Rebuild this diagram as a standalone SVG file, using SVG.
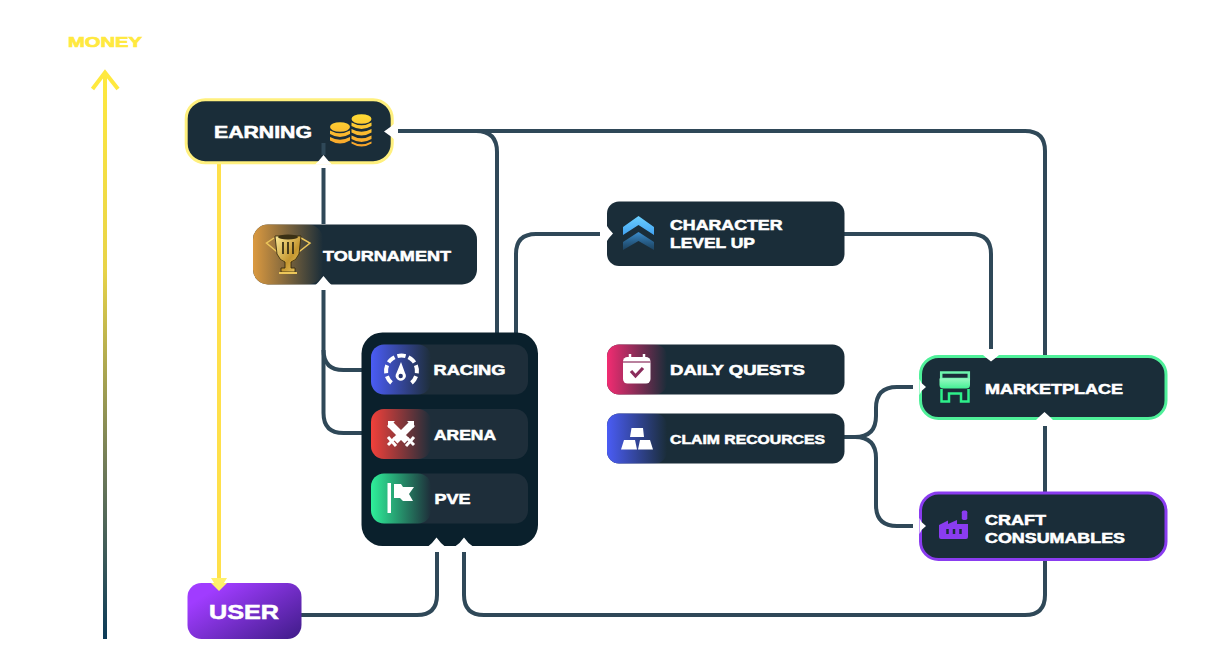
<svg xmlns="http://www.w3.org/2000/svg" width="1232" height="666" viewBox="0 0 1232 666">
<style>
.c{fill:none;stroke:#2f4858;stroke-width:4}
.n{fill:#1a2d39}
.t{font-family:"Liberation Sans",Arial,sans-serif;font-weight:700;fill:#fff;stroke:#fff;stroke-width:.55px;font-size:14.5px}
.w{fill:#fff}
</style>
<defs>
<linearGradient id="money" gradientUnits="userSpaceOnUse" x1="0" y1="72" x2="0" y2="639"><stop offset="0" stop-color="#ffe93f"/><stop offset=".35" stop-color="#e8d348"/><stop offset=".7" stop-color="#6f7a58"/><stop offset="1" stop-color="#0b3b58"/></linearGradient>
<linearGradient id="gT" x1="0" x2="1" y1="0" y2="0"><stop offset="0" stop-color="#dc9a40"/><stop offset="1" stop-color="#dc9a40" stop-opacity="0"/></linearGradient>
<linearGradient id="gB" x1="0" x2="1" y1="0" y2="0"><stop offset="0" stop-color="#4a5cf5"/><stop offset="1" stop-color="#4a5cf5" stop-opacity="0"/></linearGradient>
<linearGradient id="gR" x1="0" x2="1" y1="0" y2="0"><stop offset="0" stop-color="#f2403a"/><stop offset="1" stop-color="#f2403a" stop-opacity="0"/></linearGradient>
<linearGradient id="gG" x1="0" x2="1" y1="0" y2="0"><stop offset="0" stop-color="#2ef09a"/><stop offset="1" stop-color="#2ef09a" stop-opacity="0"/></linearGradient>
<linearGradient id="gP" x1="0" x2="1" y1="0" y2="0"><stop offset="0" stop-color="#f22c72"/><stop offset="1" stop-color="#f22c72" stop-opacity="0"/></linearGradient>
<linearGradient id="gU" x1="0" x2="1" y1="0.2" y2="1"><stop offset="0.1" stop-color="#a03cff"/><stop offset="1" stop-color="#3f1c88"/></linearGradient>
<linearGradient id="gCo" gradientUnits="userSpaceOnUse" x1="0" x2="0" y1="114" y2="147"><stop offset="0" stop-color="#ffdc35"/><stop offset="1" stop-color="#f7a12a"/></linearGradient>
<linearGradient id="gCh" gradientUnits="userSpaceOnUse" x1="0" x2="0" y1="231" y2="252"><stop offset="0" stop-color="#3f95d8"/><stop offset="1" stop-color="#1f5c90" stop-opacity=".35"/></linearGradient>
<linearGradient id="gCh2" gradientUnits="userSpaceOnUse" x1="0" x2="0" y1="216" y2="236"><stop offset="0" stop-color="#6cd0ff"/><stop offset="1" stop-color="#3f9ff0"/></linearGradient>
<linearGradient id="gSt" gradientUnits="userSpaceOnUse" x1="0" x2="0" y1="378" y2="389"><stop offset="0" stop-color="#9cf8c4"/><stop offset="1" stop-color="#3ff092"/></linearGradient>
<linearGradient id="gTr" x1="0" x2="1" y1="0" y2="1"><stop offset="0" stop-color="#fdeb9a"/><stop offset=".6" stop-color="#c4962f"/><stop offset="1" stop-color="#f0cf6a"/></linearGradient>
</defs>

<g id="connectors">
<path d="M105 639V74" fill="none" stroke="url(#money)" stroke-width="4"/>
<path d="M92.500 89L105 72.500 118 89" fill="none" stroke="#ffe93f" stroke-width="4"/>
<path class="c" d="M323.500 224V168"/>
<path class="c" d="M323.500 290V350Q323.500 370 343.500 370H371"/>
<path class="c" d="M323.500 350V413Q323.500 433 343.500 433H371"/>
<path class="c" d="M398 131H1025Q1045 131 1045 151V356"/>
<path class="c" d="M476 131Q497 131 497 152V333"/>
<path class="c" d="M516 333V254Q516 234 536 234H600"/>
<path class="c" d="M844 234H971Q991 234 991 254V349"/>
<path class="c" d="M844 437H855Q876 437 876 416V408Q876 387 897 387H913"/>
<path class="c" d="M855 437Q876 437 876 458V505Q876 526 897 526H913"/>
<path class="c" d="M1045 492V426"/>
<path class="c" d="M1045 560V595Q1045 615 1025 615H484Q464 615 464 595V552"/>
<path class="c" d="M301 615H417Q437 615 437 595V552"/>
<path d="M219 163V580" fill="none" stroke="#ffe04a" stroke-width="4"/>
<path d="M211 578H227L219 591Z" fill="#fff06a"/>
</g>

<text class="t" x="68" y="47" textLength="74" lengthAdjust="spacingAndGlyphs" style="fill:#ffe93f;stroke:#ffe93f;font-size:15px;stroke-width:.7px">MONEY</text>

<g id="earning">
<rect class="n" x="186.200" y="99.700" width="206" height="63" rx="19" stroke="#fff07e" stroke-width="3"/>
<path class="w" d="M315 164.500L318.500 161 323.500 155 328.500 161 332 164.500Z"/>
<path class="c" d="M323.500 143V155"/>
<path class="w" d="M395 123L391 126.500 384 131.500 391 136.500 395 140Z"/>
<text class="t" x="214" y="138" textLength="98" lengthAdjust="spacingAndGlyphs" style="font-size:17px">EARNING</text>
<g fill="url(#gCo)">
<ellipse cx="340" cy="127" rx="10" ry="4.800"/><path d="M330 130.500q10 5.500 20 0v3.500q-10 6-20 0ZM330 137q10 5.500 20 0v3.500q-10 6-20 0Z"/>
<ellipse cx="361.500" cy="119" rx="10" ry="4.800"/><path d="M351.500 122.500q10 5.500 20 0v3.500q-10 6-20 0ZM351.500 129q10 5.500 20 0v3.500q-10 6-20 0ZM351.500 135.500q10 5.500 20 0v3.500q-10 6-20 0ZM351.500 141.500q10 5.500 20 0v2q-10 6-20 0Z"/>
</g>
</g>

<g id="tournament">
<rect class="n" x="253" y="224.500" width="224" height="60" rx="15"/>
<rect x="253" y="224.500" width="70" height="60" rx="15" fill="url(#gT)"/>
<path class="w" d="M315 285.500L318.500 282 323.500 276 328.500 282 332 285.500Z"/>
<text class="t" x="323" y="261" textLength="128" lengthAdjust="spacingAndGlyphs" style="font-size:15.500px">TOURNAMENT</text>
<g>
<path d="M274 238L266.500 243 276 251 281 255M301 238L310 243 300 251 295 255" fill="none" stroke="#ecc65a" stroke-width="1.500"/>
<path d="M275 236H301L299 254Q296 261 291 262V268H295V272H281V268H285V262Q280 261 277 254Z" fill="url(#gTr)" stroke="#2b2108" stroke-width=".8"/>
<ellipse cx="288" cy="237" rx="10" ry="2.500" fill="#3a3014"/>
<path d="M283 242V254M288 242V254M293 242V254" stroke="#3a3014" stroke-width="1.800"/>
<rect x="279" y="272" width="18" height="2" fill="#ecc65a"/>
</g>
</g>

<g id="modes">
<rect x="361.500" y="332.500" width="176.500" height="213.500" rx="21" fill="#0a202c"/>
<path class="w" d="M428 546.500L432 543 436.500 537.500 441 543 445 546.500ZM455 546.500L459.500 543 464 537.500 468.500 543 473 546.500Z"/>
</g>

<g id="racing">
<rect x="371" y="344.500" width="157" height="50" rx="13" fill="#1e2e3a"/>
<rect x="371" y="344.500" width="60" height="50" rx="13" fill="url(#gB)"/>
<text class="t" x="433.500" y="375" textLength="72" lengthAdjust="spacingAndGlyphs">RACING</text>
<path d="M391.500 382.900A15.500 15.500 0 1 1 411.500 382.900" fill="none" stroke="#fff" stroke-width="4" pathLength="100" stroke-dasharray="10.860 4"/>
<path d="M401 362L405 373A5 5 0 1 1 396.500 373Z" fill="#fff"/>
<circle cx="400.700" cy="376" r="2.200" fill="#27356e"/>
</g>

<g id="arena">
<rect x="371" y="409" width="157" height="50" rx="13" fill="#1e2e3a"/>
<rect x="371" y="409" width="60" height="50" rx="13" fill="url(#gR)"/>
<text class="t" x="434" y="439.500" textLength="62" lengthAdjust="spacingAndGlyphs">ARENA</text>
<path d="M389.500 423.500L407 441M412.500 423.500L395 441" stroke="#fff" stroke-width="7" fill="none"/>
<path d="M388 421h7l-7 7ZM414 421h-7l7 7Z" fill="#fff"/>
<path d="M388 445L395 438M414 445L407 438M388 437L396 446M414 437L406 446" stroke="#fff" stroke-width="3" fill="none"/>
</g>

<g id="pve">
<rect x="371" y="473.500" width="157" height="50" rx="13" fill="#1e2e3a"/>
<rect x="371" y="473.500" width="60" height="50" rx="13" fill="url(#gG)"/>
<text class="t" x="434.500" y="504" textLength="36" lengthAdjust="spacingAndGlyphs">PVE</text>
<rect x="387.500" y="483" width="3.500" height="30" fill="#fff"/>
<path d="M394 484H401L403 487H414L409 494 413 501H403L400 498H394Z" fill="#fff"/>
</g>

<g id="character-level-up">
<rect class="n" x="607" y="201.500" width="237.500" height="64.500" rx="12"/>
<path class="w" d="M607 226L609 229 613 233.500 609 238 607 241Z"/>
<path d="M623 227L638.500 216 654 227V235L638.500 225 623 235Z" fill="url(#gCh2)"/>
<path d="M623 242L638.500 232 654 242V250L638.500 241 623 250Z" fill="url(#gCh)"/>
<text class="t" x="670" y="230" textLength="112.500" lengthAdjust="spacingAndGlyphs">CHARACTER</text>
<text class="t" x="670" y="248" textLength="85" lengthAdjust="spacingAndGlyphs">LEVEL UP</text>
</g>

<g id="daily-quests">
<rect class="n" x="607" y="344.500" width="237.500" height="50" rx="12"/>
<rect x="607" y="344.500" width="60" height="50" rx="12" fill="url(#gP)"/>
<rect x="623" y="357" width="27.500" height="26.500" rx="4.500" fill="#fff"/>
<path d="M630 354V360M644 354V360" stroke="#fff" stroke-width="2.500"/>
<path d="M623 362H650.500" stroke="#8a2c5c" stroke-width="1.200"/>
<path d="M631 371L635.500 376 643 368" fill="none" stroke="#8a2c5c" stroke-width="3.200"/>
<text class="t" x="670" y="375" textLength="135" lengthAdjust="spacingAndGlyphs">DAILY QUESTS</text>
</g>

<g id="claim-resources">
<rect class="n" x="607" y="413.500" width="237.500" height="50" rx="12"/>
<rect x="607" y="413.500" width="60" height="50" rx="12" fill="url(#gB)"/>
<path class="w" d="M631.500 428H643L644 437H630ZM624 440H635L637 449.500H621ZM640 440H650L653 449.500H638Z"/>
<text class="t" x="670" y="444" textLength="155" lengthAdjust="spacingAndGlyphs" style="font-size:13px">CLAIM RECOURCES</text>
</g>

<g id="marketplace">
<rect class="n" x="920.500" y="356.500" width="245.500" height="62" rx="18" stroke="#4ff09a" stroke-width="3"/>
<path class="w" d="M983 355L986.500 358 991 361.500 995.500 358 999 355ZM919.500 379V395L921.500 391 926 387 921.500 383ZM1035.500 420.500L1039 417 1044.500 412 1050 417 1053.500 420.500Z"/>
<path d="M941.200 372.500H968.800V379H941.200Z" fill="none" stroke="#6df5ae" stroke-width="2.500"/>
<path d="M939.500 378.500H970V385Q970 388.500 966 388.500H943.500Q939.500 388.500 939.500 385Z" fill="url(#gSt)"/>
<path d="M941.500 389V401.500H949V393.500H961V401.500H968.500V389" fill="none" stroke="#2ef08a" stroke-width="2.500"/>
<text class="t" x="985" y="394" textLength="138" lengthAdjust="spacingAndGlyphs">MARKETPLACE</text>
</g>

<g id="craft-consumables">
<rect class="n" x="920.500" y="493" width="245.500" height="66.500" rx="18" stroke="#8a3cf0" stroke-width="3"/>
<path class="w" d="M919.500 518V534L921.500 530 926 526 921.500 522Z"/>
<path d="M939 525L948 520.500V524L957 520V524H968V537Q968 539 966 539H941Q939 539 939 537Z" fill="#8a3cf0"/>
<rect x="961.800" y="510.500" width="5.500" height="9.500" rx="1.800" fill="#8a3cf0"/>
<path d="M947.500 529V534M954 529V534M960.500 529V534" stroke="#1a2d39" stroke-width="2.500"/>
<text class="t" x="985" y="524.500" textLength="61" lengthAdjust="spacingAndGlyphs">CRAFT</text>
<text class="t" x="985" y="542.500" textLength="140" lengthAdjust="spacingAndGlyphs">CONSUMABLES</text>
</g>

<g id="user">
<rect x="187.500" y="583" width="114" height="56" rx="14" fill="url(#gU)"/>
<path d="M211 583H227L219 591Z" fill="#fff06a"/>
<text class="t" x="209" y="619" textLength="70" lengthAdjust="spacingAndGlyphs" style="font-size:20px">USER</text>
</g>
</svg>
